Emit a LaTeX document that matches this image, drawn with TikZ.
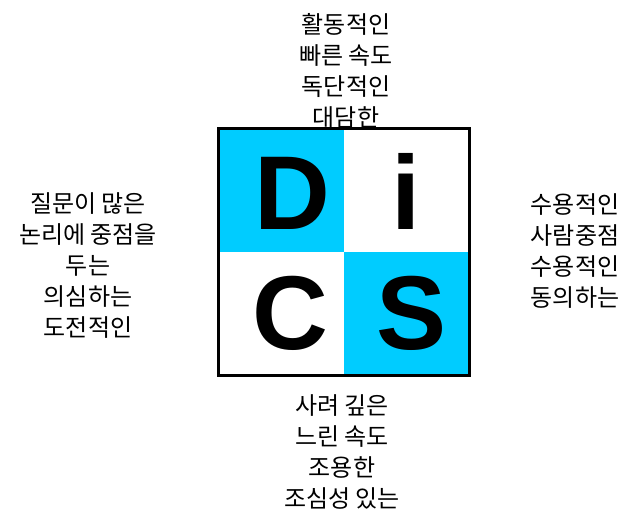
\documentclass[tikz,border=0pt]{standalone}
\usepackage{fontspec}
\newfontfamily\kofont{Noto Sans CJK KR}
\newfontfamily\letterfont{Liberation Sans}
\definecolor{discyan}{HTML}{00CCFF}
\tikzset{
  kotext/.style={align=center, inner sep=0pt, font=\kofont\fontsize{24}{31}\selectfont},
  bigletter/.style={anchor=base, inner sep=0pt, font=\letterfont\bfseries\fontsize{105}{105}\selectfont},
}
\begin{document}
\begin{tikzpicture}[x=1pt,y=-1pt]
\useasboundingbox (0,0) rectangle (628,508);
\fill[white] (0,0) rectangle (628,508);
\fill[discyan] (220,130) rectangle (344,252);
\fill[discyan] (344,252) rectangle (468,374);
\draw[line width=3pt] (218.5,128.5) rectangle (469.5,375.5);
\node[bigletter] (D) at (292,229) {D};
\node[bigletter] (I) at (406,229) {i};
\node[bigletter] (C) at (290,349) {C};
\node[bigletter] (S) at (412,349) {S};
\node[kotext] (top) at (346,71) {활동적인\\빠른 속도\\독단적인\\대담한};
\node[kotext] (left) at (88,266) {질문이 많은\\논리에 중점을\\두는\\의심하는\\도전적인};
\node[kotext] (right) at (575,251) {수용적인\\사람중점\\수용적인\\동의하는};
\node[kotext] (bottom) at (342,452) {사려 깊은\\느린 속도\\조용한\\조심성 있는};
\end{tikzpicture}
\end{document}
